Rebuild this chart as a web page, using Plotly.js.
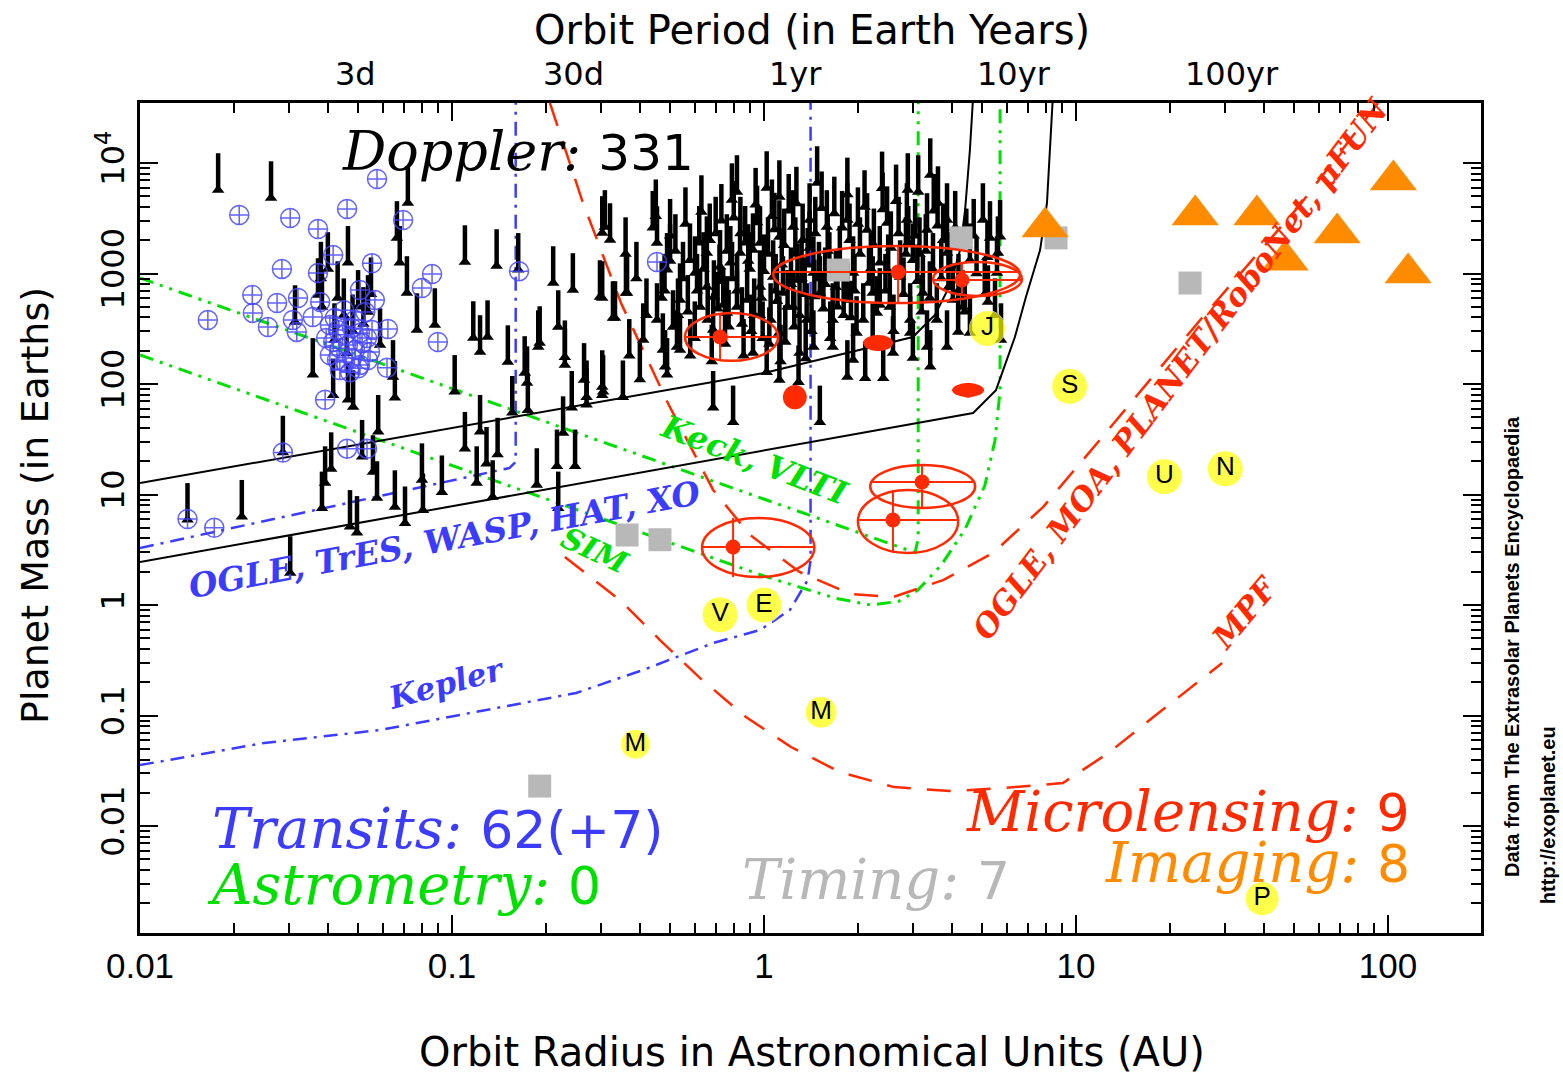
<!DOCTYPE html>
<html><head><meta charset="utf-8">
<script src="https://cdn.plot.ly/plotly-3.0.1.min.js"></script>
<style>body{margin:0;background:#fff}#chart{width:1563px;height:1077px}</style>
</head><body><div id="chart"></div>
<script>
// ---------- DATA (orbit radius a in AU, planet mass in Earth masses) ----------
const doppler = [
[0.0178,5700],[0.0263,4820],[0.0722,4340],[0.0666,2100],[0.0464,1250],[0.110,1270],[0.139,1170],[0.163,1080],
[0.211,821],[0.244,710],[0.303,600],[0.328,396],[0.309,2640],[0.068,1250],[0.0717,667],[0.0372,639],
[0.0383,497],[0.0314,364],[0.0538,449],[0.0772,308],[0.0881,342],[0.117,261],[0.123,195],[0.130,266],
[0.151,158],[0.189,216],[0.219,328],[0.230,149],[0.0588,225],[0.0358,121],[0.0416,79],[0.0482,62],
[0.0464,72],[0.0656,75],[0.0647,116],[0.102,85],[0.174,102],[0.175,58],[0.156,55],[0.303,94],
[0.270,76],[0.242,61],[0.227,36],[0.248,18],[0.217,18],[0.187,12.2],[0.219,7.5],[0.135,9.5],
[0.129,19],[0.140,23],[0.120,12.7],[0.110,26],[0.123,37],[0.0928,10.5],[0.0807,7.2],[0.0801,13.5],
[0.0707,5.5],[0.0656,7.7],[0.0575,9.3],[0.0558,16],[0.058,37],[0.0515,22],[0.0496,4.5],[0.0471,5.1],
[0.0383,7.5],[0.0392,12.7],[0.041,17],[0.0287,24],[0.0212,6.3],[0.0142,5.9],[0.0303,1.95],
[0.303,2330],[0.321,2010],[0.298,613],[0.364,667],[0.333,396],[0.454,1890],[0.489,1080],[0.454,380],
[0.474,203],[0.489,121],[0.538,203],[0.601,1010],[0.656,1530],[0.819,5470],[1.02,5940],[1.12,4920],
[1.48,6590],[1.85,5200],[2.39,5900],[2.89,5700],[3.41,7780],[3.12,5470],[3.61,4340],[3.86,3050],
[0.819,497],[0.922,191],[1.02,128],[1.12,109],[1.29,104],[1.51,45],[1.85,116],[2.11,113],[2.41,113],
[3.00,172],[3.41,143],[4.19,296],[5.22,552],[5.62,1530],[5.71,2150],[0.687,61],[0.796,45],[0.353,76],
[0.305,85],[0.270,65],
[0.883,575],[0.971,755],[1.07,930],[1.15,667],[1.28,873],[1.24,497],[1.37,380],[1.44,1010],[1.51,667],
[1.66,380],[1.85,575],[1.93,1010],[2.08,380],[2.23,667],[2.35,1250],[2.53,497],[2.73,930],[2.94,380],
[3.0,1320],[3.23,667],[3.48,1080],[3.58,380],[3.86,1530],[4.03,575],[3.33,2480],[2.87,3050],[2.48,2860],
[2.14,2480],[1.85,3050],[1.59,2640],[1.40,3050],[1.24,2640],[1.12,2140],[0.971,1890],[0.838,1530],
[0.723,1150],[0.656,755],[0.761,440],[0.687,308],[0.624,497],[0.579,1320],[0.538,575],[0.511,328],
[1.12,290],[1.30,191],[1.44,216],[1.66,216],[1.93,165],[2.23,250],[2.59,191],[2.94,290],[3.33,216],
[3.86,216],[4.34,497],[4.57,1320],[5.03,3050],[5.58,1010],[4.57,290],
[0.361,667],[0.191,235],[0.230,175],[0.171,126],[0.265,109],[0.303,79],[0.482,143],[0.526,216],
[0.691,613],[0.922,1630],[0.789,4620],[5.75,250],
[0.52,1600],[0.55,900],[0.57,450],[0.60,260],[0.62,1900],[0.64,1100],[0.66,380],[0.70,2300],[0.72,850],
[0.74,520],[0.75,230],[0.78,1250],[0.80,3200],[0.82,700],[0.85,350],[0.87,1900],[0.90,1100],[0.93,420],
[0.95,2900],[0.98,600],[0.99,260],
[1.03,1500],[1.05,380],[1.08,2500],[1.10,560],[1.14,1200],[1.17,240],[1.20,3700],[1.22,800],[1.26,1500],
[1.30,420],[1.33,2000],[1.35,650],[1.38,1200],[1.42,300],[1.46,2300],[1.50,900],[1.55,480],[1.60,1600],
[1.63,260],[1.68,3500],[1.70,750],[1.75,1250],[1.80,420],[1.88,2000],[1.95,700],[1.98,290],
[2.03,1500],[2.10,4000],[2.17,820],[2.25,1800],[2.30,440],[2.40,3800],[2.45,700],[2.55,1700],[2.60,300],
[2.70,2300],[2.80,650],[2.85,1500],[3.05,2200],[3.10,850],[3.20,450],[3.30,1600],[3.40,600],[3.50,3700],
[3.70,900],[3.75,2000],[3.95,1100],[4.10,2600],[4.20,700],[4.45,1800],[4.80,1000],[5.10,650],[5.30,2100],
[5.50,420],
[0.36,1500],[0.39,900],[0.42,420],[0.44,2600],[0.41,250],[0.47,600],[0.50,1300],[0.37,180],[0.40,110],
[0.038,900],[0.040,1100],[0.043,600],[0.045,420],[0.048,300],[0.050,500],[0.052,350],[0.042,250],
[0.046,190],[0.055,650],
[0.45,3300],[0.48,700],[0.50,2200],[0.53,420],[0.56,2800],[0.58,180],[0.61,700],[0.63,3600],[0.67,2000],
[0.68,160],[0.71,480],[0.73,3000],[0.76,1600],[0.77,330],[0.79,900],[0.84,2300],[0.86,180],[0.89,1300],
[0.91,300],[0.94,4200],[0.97,420],[1.00,1050],[1.04,230],[1.06,3300],[1.09,700],[1.13,160],[1.16,1800],
[1.19,500],[1.25,330],[1.27,4300],[1.32,900],[1.36,170],[1.40,1700],[1.45,620],[1.53,3900],[1.57,800],
[1.62,1100],[1.72,500],[1.78,2600],[1.90,400],[2.00,2800],[2.20,1100],[2.35,520],[2.50,1050],[2.65,4500],
[2.90,1900],[3.15,1500],[3.60,2700],[3.90,750],[4.40,450],[4.70,2200],[5.20,1400]
];
const transits = [
[0.0575,7160],[0.0208,3380],[0.0461,3830],[0.0303,3180],[0.0372,2530],[0.0697,3050],[0.0416,1470],
[0.0554,1240],[0.0285,1100],[0.0372,1010],[0.0863,990],[0.0801,740],[0.164,1050],[0.0507,710],
[0.0229,640],[0.0275,541],[0.0321,600],[0.0566,575],[0.0165,380],[0.0230,440],[0.0257,328],
[0.0309,380],[0.0318,296],[0.0378,552],[0.0358,404],[0.0623,315],[0.0901,240],[0.0392,72],
[0.0287,24],[0.0461,26],[0.0534,26],[0.0142,6.0],[0.0173,5.0],[0.0619,140],[0.454,1270],
[0.0406,342],[0.0431,308],[0.0454,279],[0.0478,320],[0.0507,290],[0.0534,261],[0.0416,240],
[0.0437,211],[0.0464,225],[0.0489,203],[0.0515,235],[0.0546,195],[0.0406,183],[0.0428,165],
[0.0454,158],[0.0478,172],[0.0507,149],[0.0538,165],[0.0437,134],[0.0471,128],[0.0501,139],
[0.0421,396],[0.0489,380],[0.0527,449],[0.0395,261],[0.0554,308],[0.0451,465]
];
const timingA = [0.191,0.364,0.464,1.73,4.28,8.63,23.2];
const timingM = [0.023,4.3,3.9,1075,2100,2100,820];
const imagingA = [7.96,24.1,38.0,46.8,68.7,104,116];
const imagingM = [2640,3380,3380,1320,2330,7020,1010];
// microlensing: best value and extent of uncertainty ellipse
const mlA    = [0.723,2.69,4.31,2.32,1.26,4.51,3.21,2.59,0.796];
const mlM    = [266,1030,873,235,76,88,13,5.88,3.35];
const mlAlo  = [0.558,1.07,3.48,2.08,1.15,4.01,2.19,2.0,0.633];
const mlAhi  = [1.11,6.62,6.71,2.59,1.37,5.07,4.75,4.19,1.45];
const mlMlo  = [162,541,626,199,59,76,7.55,2.96,1.79];
const mlMhi  = [439,1770,1270,278,98,102,18.5,11.0,6.13];
const mlFilled = [false,false,false,true,true,true,false,false,false];
// solar system
const planetNames = ['M','V','E','M','J','S','U','N','P'];
const planetA = [0.387,0.723,1.0,1.524,5.20,9.54,19.2,30.1,39.5];
const planetM = [0.055,0.815,1.0,0.107,318,95.2,14.5,17.1,0.0022];
const planetSize = [30,36,36,32,36,36,36,36,34];
// detection limit curves
const dopUpA = [0.01,1,3.0,3.53,3.95,4.25,4.41,4.57,4.68];
const dopUpM = [12.7,126,266,421,787,1630,3750,13100,40000];
const dopLoA = [0.01,1,4.68,5.54,6.37,6.91,7.67,8.07,8.38,8.43];
const dopLoM = [2.45,24.8,54.6,88,266,613,1630,4340,24500,40000];
const trGroundA = [0.01,0.153,0.160,0.160];
const trGroundM = [3.28,17.4,19.7,40000];
const keplerA = [0.01,0.025,0.0588,0.129,0.25,0.409,0.687,0.971,1.21,1.38,1.41,1.41];
const keplerM = [0.0356,0.0564,0.0739,0.112,0.160,0.258,0.453,0.594,0.90,1.68,2.55,40000];
const keckA = [0.01,3.05,3.12,3.12];
const keckM = [910,2.98,4,40000];
const simA = [0.01,1.0,1.3,1.7,2.2,2.7,3.1,3.7,4.4,5.1,5.5,5.71,5.71];
const simM = [183,1.83,1.45,1.15,1.0,1.08,1.35,2.3,4.8,12,31,88,40000];
const ogleA = [0.206,0.261,0.348,0.492,0.687,0.902,1.30,1.89,2.59,3.75,5.42,7.84,11.9,25.0,52.2,92.9];
const ogleM = [34900,4620,541,67,11,4.3,1.99,1.26,1.18,1.68,2.96,7.7,31,380,4170,34900];
const mpfA = [0.230,0.345,0.464,0.624,0.875,1.22,1.75,2.61,3.95,5.92,9.08,12.7,17.7,24.4,29.4];
const mpfM = [2.72,1.11,0.482,0.218,0.0969,0.0519,0.0308,0.0225,0.0207,0.0221,0.0245,0.0458,0.0969,0.197,0.299];
// axis ticks
const xTickVals = [0.01,0.1,1,10,100];
const xTickText = ['0.01','0.1','1','10','100'];
const yTickVals = [0.01,0.1,1,10,100,1000,10000];
const yTickText = ['0.01','0.1','1','10','100','1000','10<sup>4</sup>'];
const periodYears = [3/365.25,30/365.25,1,10,100];
const periodLabels = ['3d','30d','1yr','10yr','100yr'];

// ---------- COLOURS ----------
const BLUE='#3c3cff', GREEN='#00e000', RED='#ff2a00', ORANGE='#ff8c00', GREY='#b8b8b8';

const line = (x,y,color,dash,w)=>({x,y,mode:'lines',type:'scatter',line:{color,dash,width:w},hoverinfo:'skip',showlegend:false});
const traces = [
  line(keckA,keckM,GREEN,'14px,7px,3px,7px,3px,7px',3),
  line(simA,simM,GREEN,'14px,7px,3px,7px,3px,7px',3),
  line(trGroundA,trGroundM,BLUE,'14px,7px,3px,7px',2.5),
  line(keplerA,keplerM,BLUE,'14px,7px,3px,7px',2.5),
  line(ogleA,ogleM,RED,'24px,16px',2.5),
  line(mpfA,mpfM,RED,'24px,16px',2.5),
  line(dopUpA,dopUpM,'#000','solid',2),
  line(dopLoA,dopLoM,'#000','solid',2),
  {x:doppler.map(p=>p[0]),y:doppler.map(p=>p[1]),mode:'markers',type:'scatter',
   marker:{symbol:'triangle-up',size:11,color:'#000'},
   error_y:{type:'percent',symmetric:false,value:115,valueminus:0,thickness:4.5,width:0,color:'#000'},
   hoverinfo:'skip',showlegend:false},
  {x:transits.map(p=>p[0]),y:transits.map(p=>p[1]),mode:'markers',type:'scatter',
   marker:{symbol:'circle-cross-open',size:19,color:'rgba(70,70,255,0.85)',line:{width:1.5}},
   hoverinfo:'skip',showlegend:false},
  {x:timingA,y:timingM,mode:'markers',type:'scatter',marker:{symbol:'square',size:23,color:GREY},hoverinfo:'skip',showlegend:false},
  {x:imagingA,y:imagingM,mode:'markers',type:'scatter',marker:{symbol:'triangle-up',size:41,color:ORANGE},hoverinfo:'skip',showlegend:false},
  {x:mlA,y:mlM,mode:'markers',type:'scatter',marker:{symbol:'circle',size:15,color:RED},
   error_x:{type:'data',symmetric:false,array:mlA.map((a,i)=>mlAhi[i]-a),arrayminus:mlA.map((a,i)=>a-mlAlo[i]),thickness:2,width:0,color:RED},
   error_y:{type:'data',symmetric:false,array:mlM.map((m,i)=>mlMhi[i]-m),arrayminus:mlM.map((m,i)=>m-mlMlo[i]),thickness:2,width:0,color:RED},
   hoverinfo:'skip',showlegend:false},
  {x:planetA,y:planetM,text:planetNames,mode:'markers+text',type:'scatter',textposition:'middle center',
   textfont:{family:'Liberation Sans',size:26,color:'#000'},
   marker:{symbol:'circle',size:planetSize,color:'#ffff00'},hoverinfo:'skip',showlegend:false}
];

const shapes = mlA.map((a,i)=>({type:'circle',xref:'x',yref:'y',layer:'above',
  x0:mlAlo[i],x1:mlAhi[i],y0:mlMlo[i],y1:mlMhi[i],
  line:{color:RED,width:mlFilled[i]?0:2.5},fillcolor:mlFilled[i]?RED:'rgba(0,0,0,0)'}));

const minorVals=[];
for(let d=-3;d<=3;d++) for(let k=2;k<=9;k++) minorVals.push(k*Math.pow(10,d));

const axisCommon = {type:'log',ticks:'inside',ticklen:18,tickwidth:2,tickcolor:'#000',showline:true,linewidth:3,
  linecolor:'#000',mirror:'allticks',showgrid:false,zeroline:false,
  minor:{tickvals:minorVals,ticklen:10,tickwidth:2,tickcolor:'#000',ticks:'inside',showgrid:false}};

const SERIF='DejaVu Serif', SANS='DejaVu Sans';
const ann = (text,x,y,color,size,opts={})=>Object.assign({text,x,y,xref:'paper',yref:'paper',showarrow:false,
  font:{family:SERIF,size,color},xanchor:'center',yanchor:'middle'},opts);
const num = (s,sz)=>`<span style="font-family:${SANS};font-size:${sz||52}px">${s}</span>`;
const LEG=56;

const annotations = [
  ann(`<i>Doppler:</i> ${num('331',50)}`,0.149,0.941,'#000',54,{xanchor:'left'}),
  ann(`<i>Transits:</i> ${num('62(+7)')}`,0.052,0.1265,BLUE,LEG,{xanchor:'left'}),
  ann(`<i>Astrometry:</i> ${num('0')}`,0.0485,0.058,GREEN,LEG,{xanchor:'left'}),
  ann(`<i>Timing:</i> ${num('7')}`,0.4474,0.064,GREY,LEG,{xanchor:'left'}),
  ann(`<i>Microlensing:</i> ${num('9')}`,0.9485,0.146,RED,LEG,{xanchor:'right'}),
  ann(`<i>Imaging:</i> ${num('8')}`,0.9485,0.0855,ORANGE,LEG,{xanchor:'right'}),
  ann('<b><i>OGLE, TrES, WASP, HAT, XO</i></b>',0.2274,0.4735,BLUE,33,{textangle:-10.5}),
  ann('<b><i>Kepler</i></b>',0.2289,0.3012,BLUE,31,{textangle:-15}),
  ann('<b><i>SIM</i></b>',0.3393,0.4614,GREEN,30,{textangle:25}),
  ann('<b><i>Keck, VLTI</i></b>',0.4586,0.5699,GREEN,32,{textangle:21}),
  ann('<b><i>OGLE, MOA, PLANET/RoboNet, μFUN</i></b>',0.7755,0.6807,RED,31.5,{textangle:-53}),
  ann('<b><i>MPF</i></b>',0.824,0.3867,RED,31,{textangle:-50}),
  // axis titles
  ann('Orbit Radius in Astronomical Units (AU)',0.501,-0.1434,'#000',40,{font:{family:SANS,size:40,color:'#000'}}),
  ann('Orbit Period (in Earth Years)',0.501,1.088,'#000',40,{font:{family:SANS,size:40,color:'#000'}}),
  ann('Planet Mass (in Earths)',-0.0783,0.5157,'#000',38,{textangle:-90,font:{family:SANS,size:38,color:'#000'}}),
  ann('<b>Data from The Extrasolar Planets Encyclopaedia</b>',1.0231,0.3458,'#000',20,{textangle:-90,font:{family:'Liberation Sans',size:20,color:'#000'}}),
  ann('<b>http://exoplanet.eu</b>',1.05,0.142,'#000',20,{textangle:-90,font:{family:'Liberation Sans',size:20,color:'#000'}})
];
periodYears.forEach((p,i)=>{
  annotations.push({text:periodLabels[i],x:Math.log10(Math.pow(p,2/3)),y:1.0,xref:'x',yref:'paper',yanchor:'bottom',xanchor:'left',
    xshift:3,yshift:8,showarrow:false,font:{family:SANS,size:32,color:'#000'}});
});

const layout = {
  width:1563,height:1077,margin:{l:140,r:82,t:103,b:144},
  paper_bgcolor:'#fff',plot_bgcolor:'#fff',showlegend:false,
  xaxis:Object.assign({},axisCommon,{range:[-2,2.298],tickvals:xTickVals,ticktext:xTickText,
    tickfont:{family:'Liberation Sans',size:35,color:'#000'}}),
  yaxis:Object.assign({},axisCommon,{range:[-2.968,4.543],tickvals:yTickVals,ticktext:yTickText,tickangle:-90,
    tickfont:{family:SANS,size:32,color:'#000'}}),
  shapes,annotations
};
Plotly.newPlot('chart',traces,layout,{staticPlot:true});
</script></body></html>
